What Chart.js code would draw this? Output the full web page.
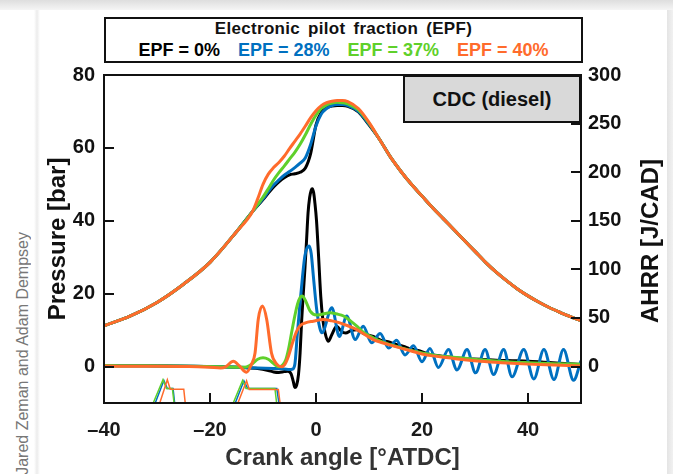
<!DOCTYPE html>
<html>
<head>
<meta charset="utf-8">
<script src="https://cdn.jsdelivr.net/npm/chart.js@4.4.1/dist/chart.umd.min.js"></script>
<style>
  html, body { margin: 0; padding: 0; background: #fff; }
  body { width: 673px; height: 474px; position: relative; overflow: hidden; font-family: "Liberation Sans", Arial, sans-serif; }
  #topbar { position: absolute; left: 0; top: 0; width: 673px; height: 10px; background: linear-gradient(#dedede, #f5f5f5); }
  #rightbar { position: absolute; left: 667px; top: 10px; width: 6px; height: 464px; background: linear-gradient(to right, #e4e4e4, #f1f1f1); }
  #leftshade { position: absolute; left: 34px; top: 10px; width: 6px; height: 464px; background: linear-gradient(to right, #fff, #ececec, #fff); }
  #credit { position: absolute; left: 14px; top: 232px; writing-mode: vertical-rl; transform: rotate(180deg); font-size: 16px; color: #777; white-space: nowrap; }
  #chart { position: absolute; left: 0; top: 0; }
  #legend { position: absolute; left: 104px; top: 17px; width: 475px; height: 42px; border: 2px solid #111; background: #fff; text-align: center; font-weight: bold; }
  #legend .ttl { font-size: 17px; line-height: 20px; letter-spacing: 0.3px; word-spacing: 3px; color: #111; }
  #legend .row { display: flex; justify-content: center; gap: 18px; font-size: 18px; line-height: 22px; }
  #cdc { position: absolute; left: 403px; top: 75px; width: 174px; height: 44px; border: 2px solid #111; background: #d9d9d9; font-weight: bold; font-size: 20px; line-height: 44px; text-align: center; color: #111; }
</style>
</head>
<body>
<div id="topbar"></div>
<div id="leftshade"></div>
<div id="rightbar"></div>
<div id="credit">Jared Zeman and Adam Dempsey</div>
<canvas id="chart" width="673" height="474"></canvas>
<div id="legend">
  <div class="ttl">Electronic pilot fraction (EPF)</div>
  <div class="row" id="legend-row"></div>
</div>
<div id="cdc">CDC (diesel)</div>
<script>
const SERIES = ['EPF = 0%', 'EPF = 28%', 'EPF = 37%', 'EPF = 40%'];
const CORES = ['#000000', '#0070c0', '#5fd02b', '#ff6b2c'];

const X_TICKS = [-40, -20, 0, 20, 40];
const P_TICKS = [0, 20, 40, 60, 80];
const A_TICKS = [0, 50, 100, 150, 200, 250, 300];

// pressão [bar] — compressão e expansão comuns a todas as curvas
const CA_COMPRESSAO = [-40, -35, -30, -25, -20, -15, -12];
const P_COMPRESSAO  = [11.2, 13.9, 17.6, 22.6, 28.6, 37.0, 42.5];
const CA_EXPANSAO = [12, 14, 16, 18, 20, 22, 24, 26, 28, 30, 32, 34, 36, 38, 40, 42, 44, 46, 48, 50];
const P_EXPANSAO  = [62.3, 57.6, 53.6, 50.0, 46.8, 43.6, 40.6, 37.6, 34.6, 31.6, 28.6, 25.9, 23.5, 21.3, 19.4, 17.7, 16.2, 14.9, 13.7, 12.6];

// trecho da combustão, por EPF
const CA_COMBUSTAO = [-11, -10, -9, -8, -7, -6, -5, -4, -3, -2, -1, 0, 1, 2, 3, 4, 5, 6, 8, 10];
const P_EPF0  = [44.2, 45.8, 47.6, 49.3, 50.7, 51.8, 52.6, 52.9, 53.3, 54.5, 58.5, 66.3, 69.8, 71.0, 71.5, 71.6, 71.6, 71.4, 69.9, 66.3];
const P_EPF28 = [44.3, 46.0, 48.0, 49.8, 51.2, 52.5, 53.5, 54.6, 55.8, 57.3, 61.0, 66.0, 69.3, 70.8, 71.6, 71.9, 71.9, 71.6, 70.0, 66.5];
const P_EPF37 = [44.5, 46.5, 48.8, 51.2, 53.2, 55.0, 56.9, 58.8, 61.0, 63.6, 66.5, 69.0, 70.8, 71.8, 72.3, 72.5, 72.4, 72.1, 70.4, 66.8];
const P_EPF40 = [46.0, 50.0, 52.8, 54.6, 56.0, 57.7, 59.8, 61.8, 63.8, 66.0, 68.3, 70.2, 71.6, 72.4, 72.8, 73.0, 73.0, 72.7, 70.8, 67.0];

// AHRR [J/CAD]
const CA_AHRR_EPF0 = [-40, -32, -24, -18, -14, -11, -9, -8, -7, -6, -5.3, -4.7, -4.3, -4.0, -3.65, -3.3, -3.0, -2.7, -2.4, -2.1, -1.8, -1.5, -1.2, -0.9, -0.7, -0.45, -0.2, 0.1, 0.5, 0.9, 1.3, 1.7, 2.3, 3.0, 3.9, 4.8, 5.6, 6.6, 7.7, 9.0, 10.8, 12.3, 13.6, 15.0, 16.4, 18.0, 19.6, 21.5, 23.5, 25.5, 28, 31, 34, 37, 40, 43, 46, 50];
const AHRR_EPF0    = [1.0, 0.8, 0.3, -0.3, -1.0, -2.0, -4.0, -5.5, -6.0, -5.2, -4.8, -7.5, -15, -21.5, -19, -8, 14, 48, 75, 100, 128, 158, 174, 181.5, 183, 179, 168, 150, 112, 72, 48, 35, 26, 33, 41.5, 36, 34.5, 37, 38, 34, 31, 27, 25.5, 23, 21, 18, 16, 12.5, 11, 9.5, 8, 7.5, 6.5, 6, 5.5, 4.5, 3.5, 2];

const CA_AHRR_EPF28 = [-40, -32, -24, -18, -14, -11, -8, -6, -5, -4.5, -4.0, -3.5, -3.0, -2.5, -2.1, -1.7, -1.3, -0.9, -0.5, 0.1, 0.7, 1.1, 3.0, 4.4, 5.8, 7.4, 8.9, 10.5, 12.1, 13.7, 15.2, 16.8, 18.4, 20.0, 21.5, 23.1, 25.0, 26.6, 28.5, 30.1, 31.9, 33.5, 35.4, 37.0, 39.2, 41.1, 43.0, 44.9, 46.7, 48.6, 50];
const AHRR_EPF28    = [1.0, 0.8, 0.3, -0.2, -0.8, -1.5, -2.0, -2.5, -3.0, -2.8, 2, 35, 65.7, 95, 113.7, 122, 124, 116, 93, 60, 40, 34.7, 60.5, 31, 52, 27.8, 41.5, 24.4, 34, 19, 27, 12, 21.5, 5, 18.5, -1, 17.5, -3.5, 17.5, -6.5, 17.5, -8.2, 17.5, -10.6, 17.5, -12.7, 17.5, -13.4, 17.5, -14.1, 6];

const CA_AHRR_EPF37 = [-40, -32, -24, -18, -14, -13.1, -12, -11, -10, -9, -8, -7, -6.3, -5.7, -5.2, -4.6, -4.0, -3.5, -3.0, -2.6, -2.0, -1.1, 0.1, 1.3, 2.6, 4.0, 5.2, 6.5, 7.7, 9.0, 10.8, 12.5, 14, 16, 18, 20, 22, 25, 28, 32, 36, 40, 45, 50];
const AHRR_EPF37    = [1.0, 0.8, 0.3, -0.3, -0.8, -0.3, 3, 7.5, 9, 7.5, 3, -0.3, 1.5, 7, 17.5, 35, 52, 64, 71, 72.5, 68, 57, 53, 54, 55.4, 54, 52, 47, 41.5, 35, 29.6, 25.5, 22.5, 19.5, 16.5, 14, 12, 10, 8.5, 6.5, 5, 4, 3, 2.5];

const CA_AHRR_EPF40 = [-40, -32, -24, -20, -18, -17, -15.6, -14.5, -13.1, -12.2, -11.5, -10.9, -10.1, -9.3, -8.4, -7.4, -6.6, -5.9, -5.2, -4.4, -3.6, -3.0, -2.0, -0.5, 1.4, 3.0, 4.5, 6.0, 7.7, 9.2, 10.8, 12.5, 14, 16, 18, 20, 22, 25, 28, 31, 35, 40, 45, 50];
const AHRR_EPF40    = [0.5, 0.3, 0, -0.8, -1.4, 0, 5.5, 1, -5.8, 2, 14, 48.5, 62.2, 48.5, 14, 2.4, -0.3, 2, 10.6, 25, 37, 42, 45, 46.7, 48.5, 47, 45, 42, 38, 33, 27.8, 24.5, 22, 19, 16, 13, 11, 9, 7, 5.5, 4, 2.5, 1.5, 0.5];

// sinal de injeção (na escala da pressão, abaixo do eixo fica cortado)
const CA_INJ_EPF28 = [-30.6, -28.7, -28.05, -26.97, -26.6, -15.5, -13.6, -12.9, -7.4, -6.9];
const INJ_EPF28    = [-11, -3.8, -6.0, -6.0, -11, -11, -3.9, -6.0, -6.0, -11];
const CA_INJ_EPF37 = [-31.0, -28.87, -28.2, -27.1, -26.7, -15.9, -13.85, -13.2, -7.75, -7.35];
const INJ_EPF37    = [-11, -3.6, -6.0, -6.0, -11, -11, -3.8, -6.0, -6.0, -11];
const CA_INJ_EPF40 = [-29.7, -28.05, -27.5, -24.95, -24.6, -15.0, -13.1, -12.6, -7.1, -6.7];
const INJ_EPF40    = [-11, -3.6, -6.2, -6.2, -11, -11, -3.9, -6.3, -6.3, -11];

function pts(xs, ys) {
  return xs.map((x, i) => ({ x: x, y: ys[i] }));
}

function fmtTick(v) {
  return v < 0 ? '\u2013' + Math.abs(v) : String(v);
}

// legenda
const row = document.getElementById('legend-row');
SERIES.forEach((s, i) => {
  const span = document.createElement('span');
  span.textContent = s;
  span.style.color = CORES[i];
  row.appendChild(span);
});

const CA_PRESSAO = CA_COMPRESSAO.concat(CA_COMBUSTAO, CA_EXPANSAO);

function pressao(vals, i) {
  return {
    label: 'P ' + SERIES[i], yAxisID: 'p',
    data: pts(CA_PRESSAO, P_COMPRESSAO.concat(vals, P_EXPANSAO)),
    borderColor: CORES[i], borderWidth: 3, pointRadius: 0,
    cubicInterpolationMode: 'monotone', clip: 0
  };
}
function ahrr(xs, ys, i) {
  return {
    label: 'AHRR ' + SERIES[i], yAxisID: 'a',
    data: pts(xs, ys),
    borderColor: CORES[i], borderWidth: 3, pointRadius: 0,
    cubicInterpolationMode: 'monotone', clip: 0
  };
}
function injecao(xs, ys, i) {
  return {
    label: 'Inj ' + SERIES[i], yAxisID: 'p',
    data: pts(xs, ys),
    borderColor: CORES[i], borderWidth: 1.5, pointRadius: 0,
    tension: 0, clip: 0
  };
}

const framePlugin = {
  id: 'frame',
  afterDraw(chart) {
    const { ctx, chartArea: a, scales } = chart;
    ctx.save();
    ctx.strokeStyle = '#111';
    ctx.lineWidth = 2;
    ctx.strokeRect(a.left, a.top, a.right - a.left, a.bottom - a.top);
    ctx.beginPath();
    P_TICKS.forEach(v => {
      const y = Math.round(scales.p.getPixelForValue(v));
      ctx.moveTo(a.left, y); ctx.lineTo(a.left + 10, y);
    });
    A_TICKS.forEach(v => {
      const y = Math.round(scales.a.getPixelForValue(v));
      ctx.moveTo(a.right, y); ctx.lineTo(a.right - 10, y);
    });
    X_TICKS.forEach(v => {
      const x = Math.round(scales.x.getPixelForValue(v));
      ctx.moveTo(x, a.bottom); ctx.lineTo(x, a.bottom - 10);
    });
    ctx.stroke();
    // título do eixo direito (lido de baixo para cima)
    ctx.translate(a.right + 70, (a.top + a.bottom) / 2 + 2);
    ctx.rotate(-Math.PI / 2);
    ctx.font = 'bold 24px "Liberation Sans", Arial, sans-serif';
    ctx.fillStyle = '#111';
    ctx.textAlign = 'center';
    ctx.textBaseline = 'middle';
    ctx.fillText('AHRR [J/CAD]', 0, 0);
    ctx.restore();
  }
};

Chart.defaults.font.family = '"Liberation Sans", Arial, sans-serif';

const tickFont = { size: 20, weight: 'bold' };

new Chart(document.getElementById('chart'), {
  type: 'line',
  data: {
    datasets: [
      pressao(P_EPF40, 3), ahrr(CA_AHRR_EPF40, AHRR_EPF40, 3),
      pressao(P_EPF37, 2), ahrr(CA_AHRR_EPF37, AHRR_EPF37, 2),
      pressao(P_EPF28, 1), ahrr(CA_AHRR_EPF28, AHRR_EPF28, 1),
      pressao(P_EPF0, 0),  ahrr(CA_AHRR_EPF0, AHRR_EPF0, 0),
      injecao(CA_INJ_EPF40, INJ_EPF40, 3),
      injecao(CA_INJ_EPF37, INJ_EPF37, 2),
      injecao(CA_INJ_EPF28, INJ_EPF28, 1)
    ]
  },
  options: {
    responsive: false,
    animation: false,
    devicePixelRatio: 1,
    layout: { padding: { top: 75, left: 0, right: 0, bottom: 0 } },
    plugins: { legend: { display: false }, tooltip: { enabled: false } },
    scales: {
      x: {
        type: 'linear', position: 'bottom', min: -40, max: 50,
        afterBuildTicks: s => { s.ticks = X_TICKS.map(v => ({ value: v })); },
        afterFit: s => { s.height = 71; },
        grid: { display: false, drawTicks: false },
        border: { display: false },
        ticks: { font: tickFont, color: '#1a1a1a', padding: 15, callback: fmtTick, maxRotation: 0 },
        title: { display: true, text: 'Crank angle [°ATDC]', color: '#333', font: { size: 24, weight: 'bold' }, padding: { top: 0, bottom: 1 } }
      },
      p: {
        type: 'linear', position: 'left', min: -10, max: 80,
        afterBuildTicks: s => { s.ticks = P_TICKS.map(v => ({ value: v })); },
        afterFit: s => { s.width = 104; },
        grid: { display: false, drawTicks: false },
        border: { display: false },
        ticks: { font: tickFont, color: '#111', padding: 9, callback: fmtTick },
        title: { display: true, text: 'Pressure [bar]', color: '#111', font: { size: 24, weight: 'bold' }, padding: { top: 44, bottom: 0 } }
      },
      a: {
        type: 'linear', position: 'right', min: -37.5, max: 300,
        afterBuildTicks: s => { s.ticks = A_TICKS.map(v => ({ value: v })); },
        afterFit: s => { s.width = 92; },
        grid: { display: false, drawTicks: false },
        border: { display: false },
        ticks: { font: tickFont, color: '#111', padding: 7, callback: fmtTick }
      }
    }
  },
  plugins: [framePlugin]
});
</script>
</body>
</html>
